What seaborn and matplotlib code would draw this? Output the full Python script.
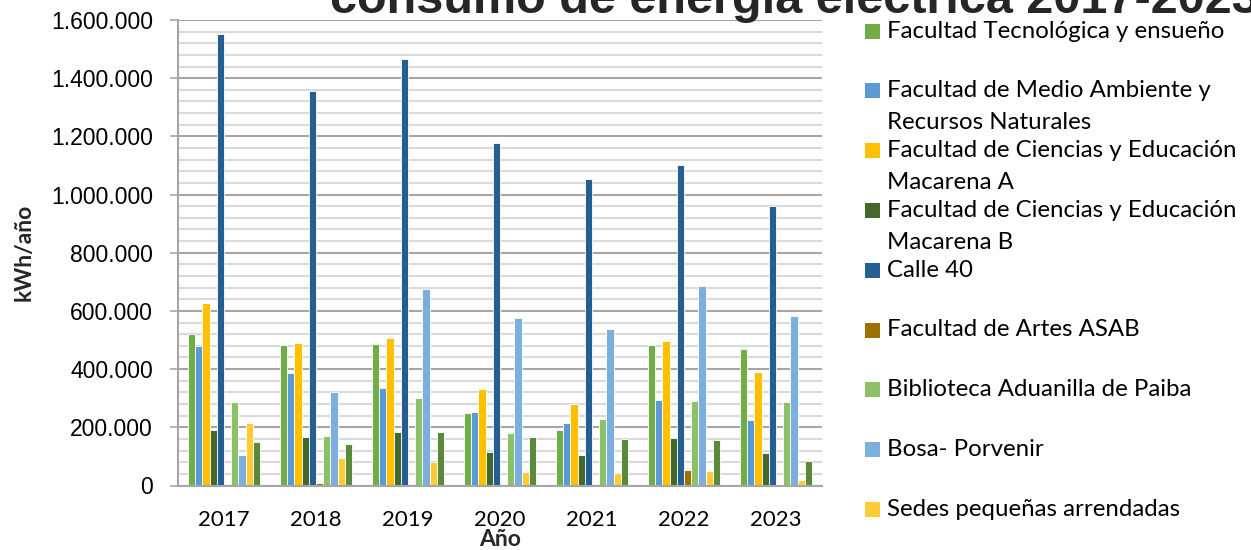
import numpy as np
import pandas as pd
import matplotlib
matplotlib.use("Agg")
import matplotlib.pyplot as plt
from matplotlib.patches import Rectangle
from matplotlib.ticker import FuncFormatter, MultipleLocator
import seaborn as sns

years = ["2017", "2018", "2019", "2020", "2021", "2022", "2023"]

sedes = [
    "Facultad Tecnológica y ensueño",
    "Facultad de Medio Ambiente y\nRecursos Naturales",
    "Facultad de Ciencias y Educación\nMacarena A",
    "Facultad de Ciencias y Educación\nMacarena B",
    "Calle 40",
    "Facultad de Artes ASAB",
    "Biblioteca Aduanilla de Paiba",
    "Bosa- Porvenir",
    "Sedes pequeñas arrendadas",
    "Otra sede",
]

tecnologica = [520000, 484000, 488000, 248000, 191000, 483000, 470000]
medio_ambiente = [479000, 387000, 334000, 252000, 214000, 294000, 224000]
macarena_a = [627000, 490000, 508000, 331000, 279000, 495000, 389000]
macarena_b = [190000, 166000, 184000, 116000, 105000, 164000, 112000]
calle_40 = [1552000, 1356000, 1467000, 1176000, 1053000, 1102000, 961000]
asab = [6000, 7000, 5000, 1000, 5000, 54000, 1000]
aduanilla = [288000, 171000, 301000, 180000, 229000, 290000, 287000]
bosa = [106000, 320000, 675000, 576000, 537000, 685000, 584000]
arrendadas = [214000, 95000, 81000, 47000, 43000, 50000, 18000]
otra = [149000, 143000, 183000, 167000, 160000, 156000, 85000]

series = [tecnologica, medio_ambiente, macarena_a, macarena_b, calle_40,
          asab, aduanilla, bosa, arrendadas, otra]

colors = ["#70AD47", "#5B9BD5", "#FFC000", "#43682B", "#255E91",
          "#9E7000", "#8CC168", "#7CAFDD", "#FFCD33", "#5B8A3A"]

# number of entries visible in the (cropped) legend of the original
n_legend = 9

rows = []
for name, vals in zip(sedes, series):
    for y, v in zip(years, vals):
        rows.append({"Año": y, "kWh": v, "Sede": name})
df = pd.DataFrame(rows)

sns.set_theme(style="white")
plt.rcParams["font.family"] = ["Lato", "DejaVu Sans"]

fig = plt.figure(figsize=(12.51, 5.5), dpi=100)
ax = fig.add_axes([178 / 1251, 64.5 / 550, 644 / 1251, 465.5 / 550])

sns.barplot(data=df, x="Año", y="kWh", hue="Sede", hue_order=sedes,
            order=years, palette=colors, width=0.78, edgecolor="#ffffff",
            linewidth=0.6, ax=ax, legend=False, errorbar=None, saturation=1)

ax.set_ylim(0, 1600000)
ax.set_xlim(-0.5, 6.5)
ax.yaxis.set_major_locator(MultipleLocator(200000))
ax.yaxis.set_minor_locator(MultipleLocator(40000))
ax.yaxis.set_major_formatter(FuncFormatter(lambda v, p: f"{int(v):,}".replace(",", ".")))
ax.grid(which="minor", axis="y", color="#d9d9d9", linewidth=1.5)
ax.grid(which="major", axis="y", color="#a6a6a6", linewidth=1.5)
ax.set_axisbelow(True)
for s in ["top", "right"]:
    ax.spines[s].set_visible(False)
ax.spines["left"].set_color("#a6a6a6")
ax.spines["left"].set_linewidth(1.5)
ax.spines["bottom"].set_color("#a6a6a6")
ax.spines["bottom"].set_linewidth(1.5)
ax.tick_params(axis="y", which="major", direction="out", length=6, width=1.2,
               color="#a6a6a6", left=True, pad=12)
ax.tick_params(axis="y", which="minor", left=False)
ax.tick_params(axis="x", length=0, pad=18)
for lab in ax.get_yticklabels():
    lab.set_fontfamily(["Liberation Sans", "DejaVu Sans"])
    lab.set_fontsize(16.5)
    lab.set_color("#000000")
for lab in ax.get_xticklabels():
    lab.set_fontsize(16)
    lab.set_color("#000000")

ax.set_xlabel("Año", fontsize=16.5, fontweight="bold", labelpad=-1)
ax.set_ylabel("kWh/año", fontsize=16.5, fontweight="bold", labelpad=12)

fig.text(330 / 1251, 1 - 13 / 550, "consumo de energía eléctrica 2017-2023",
         fontsize=35, fontweight="bold", ha="left", va="baseline",
         family=["Liberation Sans", "DejaVu Sans"])

# legend (manual layout, entries evenly spaced as in the original)
first_y = 31
step = 59.8
line_h = 32
for i in range(n_legend):
    name, c = sedes[i], colors[i]
    yc = first_y + i * step
    fig.patches.append(Rectangle((865 / 1251, 1 - (yc + 7.5) / 550), 15 / 1251, 15 / 550,
                                 transform=fig.transFigure, facecolor=c,
                                 edgecolor="none", figure=fig))
    for j, line in enumerate(name.split("\n")):
        fig.text(887 / 1251, 1 - (yc + j * line_h) / 550, line, fontsize=17.3,
                 ha="left", va="center", color="#000000")

fig.savefig("out.png", dpi=100)
